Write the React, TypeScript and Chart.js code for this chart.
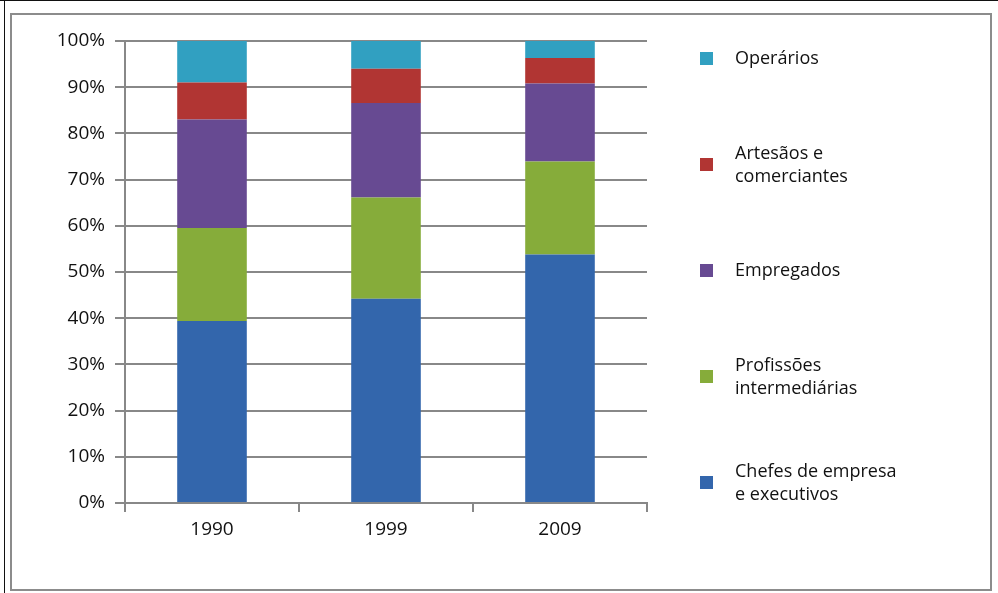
import React, { useEffect, useRef } from 'react';
import { Chart, registerables } from 'chart.js';

Chart.register(...registerables);

const categories = ['1990', '1999', '2009'];
const chefes = [39.4, 44.2, 53.8];
const profissoes = [20.1, 21.9, 20.1];
const empregados = [23.5, 20.5, 16.9];
const artesaos = [8.0, 7.4, 5.5];
const operarios = [9.0, 6.0, 3.7];

const seriesLabels: string[][] = [
  ['Chefes de empresa', 'e executivos'],
  ['Profissões', 'intermediárias'],
  ['Empregados'],
  ['Artesãos e', 'comerciantes'],
  ['Operários'],
];
const seriesColors = ['#3366AC', '#86AC3A', '#674A92', '#B13533', '#31A0C1'];

const FONT = '"Open Sans", "Noto Sans", sans-serif';
const GRID = '#888888';
const TEXT = '#111111';

const legendPlugin = {
  id: 'sideLegend',
  afterDraw(chart: any) {
    const ctx = chart.ctx;
    const ds = chart.data.datasets;
    const n = ds.length;
    ctx.save();
    ctx.font = `18px ${FONT}`;
    ctx.textBaseline = 'middle';
    ctx.textAlign = 'left';
    for (let k = 0; k < n; k++) {
      const d = ds[n - 1 - k];
      const cy = 58 + k * 106;
      const lines: string[] = Array.isArray(d.label) ? d.label : [d.label];
      ctx.fillStyle = d.backgroundColor;
      ctx.fillRect(700, Math.round(cy - 6.5), 13, 13);
      ctx.fillStyle = TEXT;
      const lh = 23;
      const start = cy + 1 - ((lines.length - 1) * lh) / 2;
      lines.forEach((ln, i) => ctx.fillText(ln, 735, start + i * lh));
    }
    ctx.restore();
  },
};

export default function App() {
  const ref = useRef<HTMLCanvasElement | null>(null);

  useEffect(() => {
    if (!ref.current) return;
    const values = [chefes, profissoes, empregados, artesaos, operarios];
    const chart = new Chart(ref.current, {
      type: 'bar',
      data: {
        labels: categories,
        datasets: values.map((v, i) => ({
          label: seriesLabels[i] as any,
          data: v,
          backgroundColor: seriesColors[i],
          borderWidth: 0,
          barPercentage: 0.4,
          categoryPercentage: 1,
        })),
      },
      options: {
        animation: false,
        responsive: false,
        maintainAspectRatio: false,
        layout: { padding: { top: 41, right: 351, bottom: 40, left: 0 } },
        plugins: {
          legend: { display: false },
          tooltip: { enabled: false },
        },
        scales: {
          x: {
            stacked: true,
            grid: {
              display: true,
              drawOnChartArea: false,
              drawTicks: true,
              tickLength: 9,
              color: GRID,
              lineWidth: 2,
            },
            border: { display: true, color: GRID, width: 2 },
            ticks: {
              color: TEXT,
              font: { family: FONT, size: 19 },
              padding: 6,
            },
            afterFit: (s: any) => {
              s.height = 50;
            },
          },
          y: {
            stacked: true,
            min: 0,
            max: 100,
            grid: {
              color: GRID,
              lineWidth: 2,
              drawTicks: true,
              tickLength: 10,
            },
            border: { display: true, color: GRID, width: 2 },
            ticks: {
              stepSize: 10,
              color: TEXT,
              font: { family: FONT, size: 19 },
              padding: 10,
              callback: (v: any) => `${v}%`,
            },
            afterFit: (s: any) => {
              s.width = 125;
            },
          },
        },
      },
      plugins: [legendPlugin],
    });
    return () => chart.destroy();
  }, []);

  return (
    <div style={{ position: 'absolute', left: 0, top: 0, width: 998, height: 593, background: '#fff' }}>
      <div style={{ position: 'absolute', left: 0, top: 0, width: 998, height: 1, background: '#111' }} />
      <div style={{ position: 'absolute', left: 4, top: 0, width: 1, height: 593, background: '#111' }} />
      <div
        style={{
          position: 'absolute',
          left: 10,
          top: 13,
          width: 982,
          height: 578,
          border: '2px solid #8c8c8c',
          boxSizing: 'border-box',
        }}
      />
      <canvas ref={ref} width={998} height={593} style={{ position: 'absolute', left: 0, top: 0, width: 998, height: 593 }} />
    </div>
  );
}
